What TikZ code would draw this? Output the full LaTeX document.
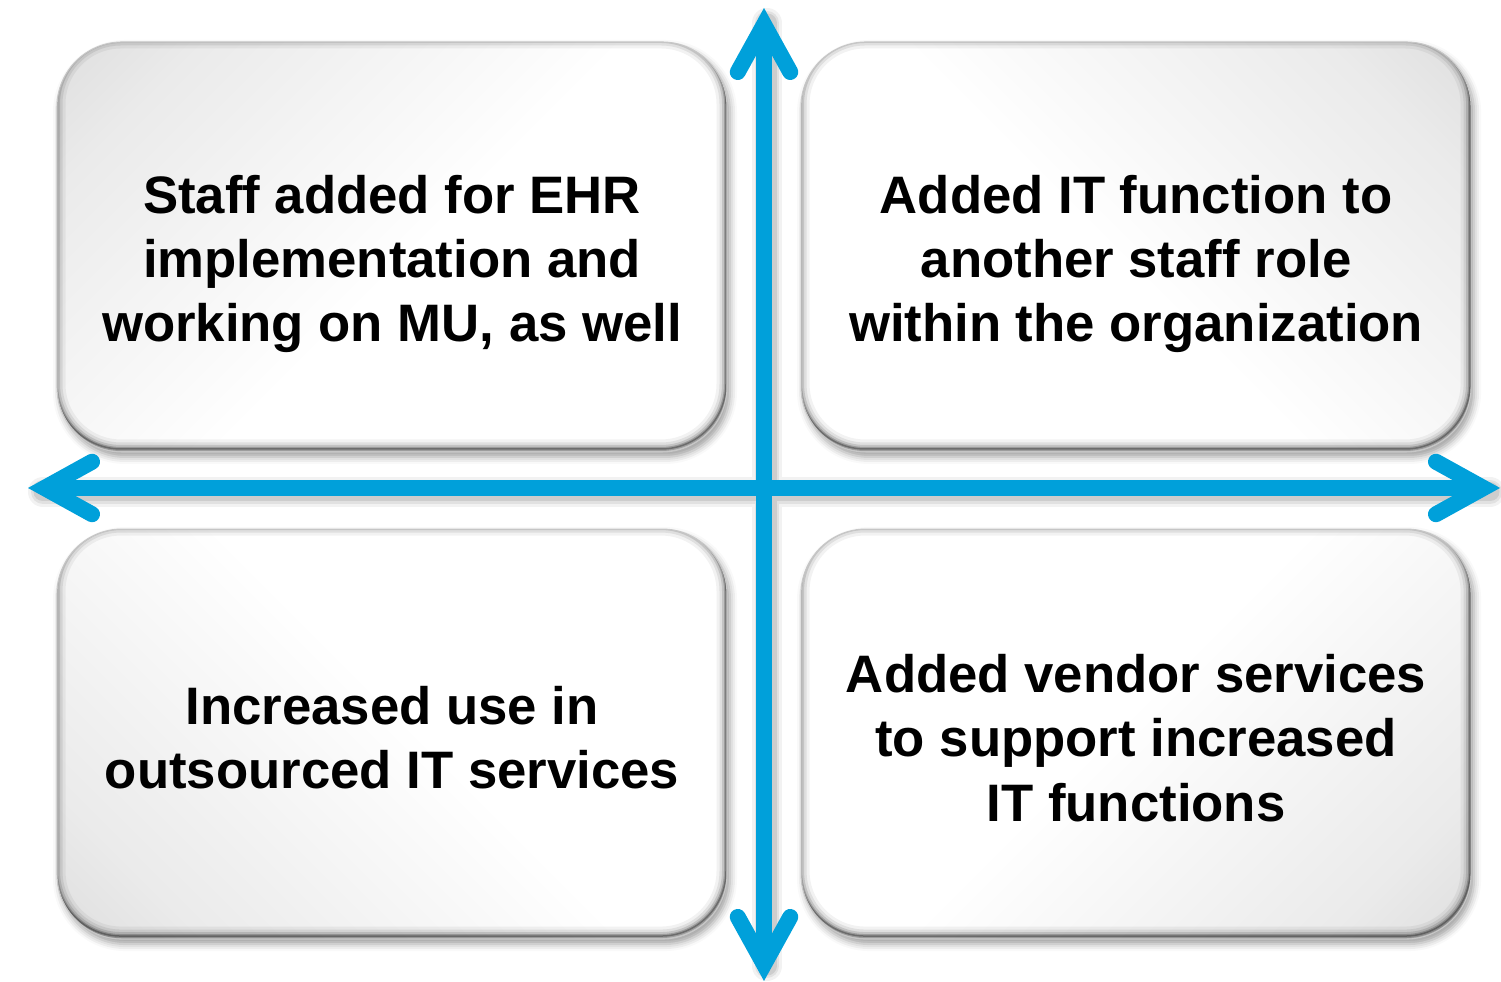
\documentclass[tikz,border=0pt]{standalone}
\usepackage{fontspec}
\setmainfont{Liberation Sans}
\usetikzlibrary{arrows.meta,positioning,shadows.blur}

\definecolor{axisblue}{RGB}{0,160,218}
\pgfdeclareverticalshading{facefade}{100bp}{color(0bp)=(white); color(48bp)=(white);
  color(76bp)=(black!8); color(100bp)=(black!20)}

\begin{document}
\begin{tikzpicture}[node distance=1.46cm,
    >={Straight Barb[length=0.95cm,width=1.05cm,line cap=round,line join=miter]}]
  \tikzstyle{face}=[rectangle,rounded corners=1.3cm,minimum width=13.4cm,
                    minimum height=8.2cm,shading=facefade,draw=black!22,line width=0.6pt,
                    blur shadow={shadow xshift=0.06cm,shadow yshift=-0.1cm,
                    shadow blur radius=0.14cm,shadow opacity=38},
                    path picture={
                      \foreach \w/\o in {0.38/0.05,0.26/0.08,0.16/0.12,0.08/0.2,0.03/0.3}
                        \draw [line width=\w cm,black,opacity=\o,rounded corners=1.3cm]
                          ([shift={(-0.02,0.06)}]path picture bounding box.south west) rectangle
                          ([shift={(-0.02,0.06)}]path picture bounding box.north east);
                    }]
  \tikzstyle{txt}=[align=center,font=\bfseries\fontsize{30}{36.5}\selectfont]
  \tikzstyle{axis}=[line width=0.32cm,draw=axisblue,<->]

  \useasboundingbox (0,0) rectangle (30.02,19.64);

  % the four rounded panels
  \node [face,shading angle=45] (tl) at (7.84,14.7) {};
  \node [face,shading angle=-45] (tr) [right=of tl] {};
  \node [face,shading angle=135] (bl) [below=1.52cm of tl] {};
  \node [face,shading angle=-135] (br) [below=1.52cm of tr] {};

  \node [txt] (tltext) at ([yshift=-0.34cm]tl)
    {Staff added for EHR\\implementation and\\working on MU, as well};
  \node [txt] (trtext) at ([yshift=-0.34cm]tr)
    {Added IT function to\\another staff role\\within the organization};
  \node [txt] (bltext) at ([yshift=-0.08cm]bl)
    {Increased use in\\outsourced IT services};
  \node [txt] (brtext) at ([yshift=-0.08cm]br)
    {Added vendor services\\to support increased\\IT functions};

  % the two axes
  \coordinate (west) at (0.56,9.88);
  \coordinate (east) at (30.0,9.88);
  \coordinate (north) at (15.28,19.48);
  \coordinate (south) at (15.28,0.02);
  \foreach \w/\o in {0.6/0.05,0.48/0.07,0.38/0.09}
    \draw [line width=\w cm,black,opacity=\o,line cap=round]
      ([shift={(0.3,-0.08)}]west) -- ([shift={(-0.2,-0.08)}]east)
      ([shift={(0.06,-0.3)}]north) -- ([shift={(0.06,0.3)}]south);
  \draw [axis] (west) -- (east);
  \draw [axis] (north) -- (south);
\end{tikzpicture}
\end{document}
